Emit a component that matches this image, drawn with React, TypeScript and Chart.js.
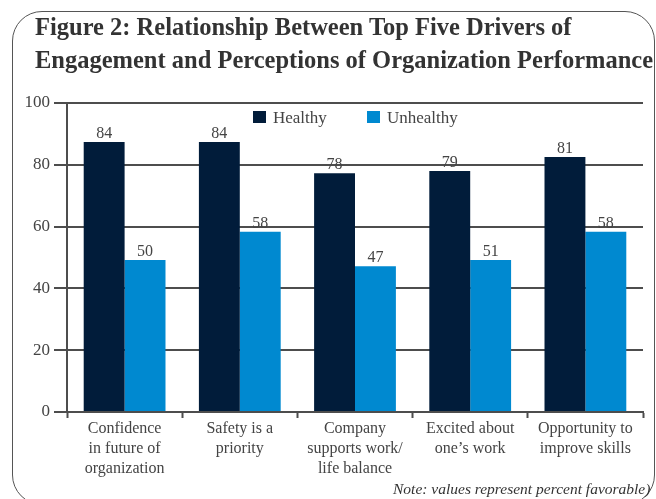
import React, { useEffect, useRef } from "react";
import { Chart, registerables } from "chart.js";

Chart.register(...registerables);

const titleLines = [
  "Figure 2: Relationship Between Top Five Drivers of",
  "Engagement and Perceptions of Organization Performance",
];
const note = "Note: values represent percent favorable)";

const categories: string[][] = [
  ["Confidence", "in future of", "organization"],
  ["Safety is a", "priority"],
  ["Company", "supports work/", "life balance"],
  ["Excited about", "one\u2019s work"],
  ["Opportunity to", "improve skills"],
];
const seriesNames = ["Healthy", "Unhealthy"];
// bar heights as drawn in the picture
const healthyBars = [87.4, 87.4, 77.3, 78.0, 82.5];
const unhealthyBars = [49.2, 58.3, 47.2, 49.2, 58.3];
// value labels as printed above the bars
const healthyLabels = [84, 84, 78, 79, 81];
const unhealthyLabels = [50, 58, 47, 51, 58];
const yMin = 0;
const yMax = 100;
const yStep = 20;

const FONT = "'Liberation Serif', 'Times New Roman', serif";
const TEXT = "#444444";
const GRID = "#4d4d4d";
const COLORS = ["#011c3a", "#0089d0"];

const valueLabelPlugin = {
  id: "valueLabels",
  afterDatasetsDraw(chart: any) {
    const ctx = chart.ctx;
    const all = [healthyLabels, unhealthyLabels];
    ctx.save();
    ctx.font = `16px ${FONT}`;
    ctx.fillStyle = TEXT;
    ctx.textAlign = "center";
    ctx.textBaseline = "alphabetic";
    chart.data.datasets.forEach((ds: any, di: number) => {
      const meta = chart.getDatasetMeta(di);
      meta.data.forEach((el: any, i: number) => {
        ctx.fillText(String(all[di][i]), el.x, el.y - 4);
      });
    });
    ctx.restore();
  },
};

const legendPlugin = {
  id: "innerLegend",
  afterDraw(chart: any) {
    const ctx = chart.ctx;
    const positions = [253, 367];
    ctx.save();
    ctx.font = `17px ${FONT}`;
    ctx.textBaseline = "alphabetic";
    ctx.textAlign = "left";
    chart.data.datasets.forEach((ds: any, di: number) => {
      const x = positions[di];
      ctx.fillStyle = ds.backgroundColor;
      ctx.fillRect(x, 111, 13, 12);
      ctx.fillStyle = TEXT;
      ctx.fillText(ds.label, x + 20, 123);
    });
    ctx.restore();
  },
};

export default function App() {
  const ref = useRef<HTMLCanvasElement>(null);
  useEffect(() => {
    if (!ref.current) return;
    const chart = new Chart(ref.current, {
      type: "bar",
      data: {
        labels: categories,
        datasets: [
          { label: seriesNames[0], data: healthyBars, backgroundColor: COLORS[0], categoryPercentage: 0.71, barPercentage: 1 },
          { label: seriesNames[1], data: unhealthyBars, backgroundColor: COLORS[1], categoryPercentage: 0.71, barPercentage: 1 },
        ],
      },
      options: {
        responsive: false,
        animation: false,
        layout: { padding: { left: 0, top: 103, right: 13, bottom: 0 } },
        plugins: {
          legend: { display: false },
          tooltip: { enabled: false },
          title: { display: false },
        },
        scales: {
          x: {
            offset: true,
            grid: {
              offset: true,
              drawOnChartArea: false,
              drawTicks: true,
              tickLength: 6,
              tickColor: GRID,
              tickWidth: 2,
            },
            border: { display: true, color: GRID, width: 2 },
            ticks: {
              color: TEXT,
              font: { family: FONT, size: 16, lineHeight: 1.25 },
              padding: 1,
              maxRotation: 0,
              autoSkip: false,
            },
            afterFit(scale: any) {
              scale.height = 87;
            },
          },
          y: {
            min: yMin,
            max: yMax,
            grid: {
              color: GRID,
              lineWidth: 2,
              drawTicks: true,
              tickLength: 13,
              tickColor: GRID,
            },
            border: { display: true, color: GRID, width: 2 },
            ticks: {
              stepSize: yStep,
              color: TEXT,
              font: { family: FONT, size: 17 },
              padding: 4,
            },
            afterFit(scale: any) {
              scale.width = 67;
            },
          },
        },
      },
      plugins: [valueLabelPlugin, legendPlugin],
    });
    return () => chart.destroy();
  }, []);

  return (
    <div
      style={{
        position: "fixed",
        left: 0,
        top: 0,
        width: 656,
        height: 499,
        overflow: "hidden",
        background: "#ffffff",
      }}
    >
      <div
        style={{
          position: "absolute",
          left: 12,
          top: 11,
          width: 643,
          height: 494,
          border: "1.5px solid #555555",
          borderRadius: 30,
          boxSizing: "border-box",
        }}
      />
      <canvas
        ref={ref}
        width={656}
        height={499}
        style={{ position: "absolute", left: 0, top: 0, width: 656, height: 499 }}
      />
      <div
        style={{
          position: "absolute",
          left: 35,
          top: 10,
          fontFamily: FONT,
          fontWeight: "bold",
          fontSize: 24.5,
          lineHeight: "33px",
          color: "#333333",
          whiteSpace: "nowrap",
        }}
      >
        {titleLines.map((t, i) => (
          <div key={i}>{t}</div>
        ))}
      </div>
      <div
        style={{
          position: "absolute",
          left: 393,
          top: 479,
          fontFamily: FONT,
          fontStyle: "italic",
          fontSize: 15.5,
          lineHeight: "20px",
          color: "#333333",
          whiteSpace: "nowrap",
        }}
      >
        {note}
      </div>
    </div>
  );
}
